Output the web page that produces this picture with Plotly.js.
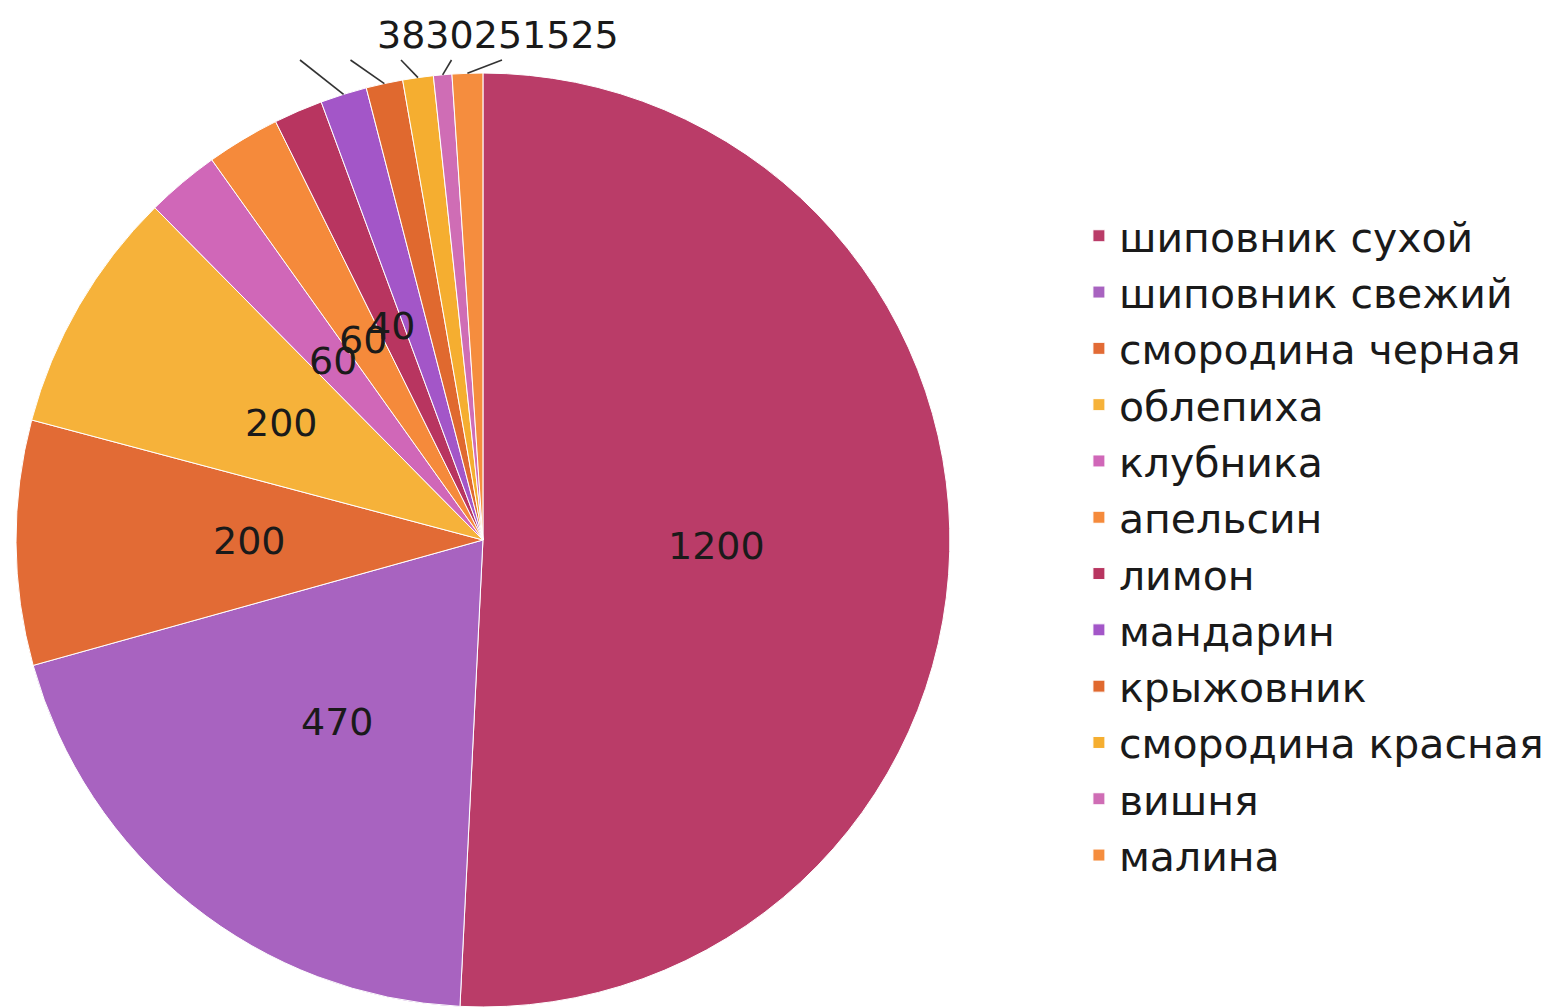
<!DOCTYPE html>
<html>
<head>
<meta charset="utf-8">
<script src="https://cdn.plot.ly/plotly-3.0.1.min.js"></script>
<style>html,body{margin:0;padding:0;background:#fff;}#chart{width:1552px;height:1008px;}</style>
</head>
<body>
<div id="chart"></div>
<script>
const labels = ["шиповник сухой","шиповник свежий","смородина черная","облепиха","клубника","апельсин","лимон","мандарин","крыжовник","смородина красная","вишня","малина"];
const values = [1200, 470, 200, 200, 60, 60, 40, 38, 30, 25, 15, 25];
const colors = ["#BA3C68","#A863C0","#E26B35","#F6B23A","#D067B8","#F58A3B","#B83560","#A356C8","#E0692F","#F5AE30","#CF6DB5","#F58D3E"];
// number of leading slices whose value label sits inside the slice
const insideCount = 7;

// page geometry (layout settings)
const W = 1552, H = 1008;
const M = {l: 16, r: 0, t: 73, b: 1};
const domX = [0, 0.608];
const plotW = W - M.l - M.r, plotH = H - M.t - M.b;

// pie geometry derived from the layout
const R = Math.min((domX[1] - domX[0]) * plotW, plotH) / 2;
const cx = M.l + (domX[0] + domX[1]) / 2 * plotW;
const cy = M.t + plotH / 2;
const toPaperX = px => (px - M.l) / plotW;
const toPaperY = py => (H - M.b - py) / plotH;

const total = values.reduce((a, b) => a + b, 0);
let cum = 0;
const mids = values.map(v => { const m = (cum + v / 2) / total * 2 * Math.PI; cum += v; return m; });

const font = {family: "DejaVu Sans", size: 38, color: "#1a1a1a"};
const annotations = [];
const shapes = [];
values.forEach((v, i) => {
  if (i < insideCount) {
    const px = cx + 0.5 * R * Math.sin(mids[i]);
    const py = cy - 0.5 * R * Math.cos(mids[i]);
    annotations.push({xref: "paper", yref: "paper", x: toPaperX(px), y: toPaperY(py),
      text: String(v), showarrow: false, font: font, xanchor: "center", yanchor: "middle"});
  } else {
    const k = i - insideCount;
    const ex = cx + R * Math.sin(mids[i]);
    const ey = cy - R * Math.cos(mids[i]);
    const lx = 300 + k * 50.5, ly = 60;
    shapes.push({type: "line", xref: "paper", yref: "paper",
      x0: toPaperX(ex), y0: toPaperY(ey), x1: toPaperX(lx), y1: toPaperY(ly),
      line: {color: "#333333", width: 1.6}});
  }
});
// the outside labels run together in one row above the pie, as in the source
annotations.push({xref: "paper", yref: "paper", x: toPaperX(498), y: toPaperY(35),
  text: values.slice(insideCount).join(""), showarrow: false, font: font,
  xanchor: "center", yanchor: "middle"});

const trace = {
  type: "pie",
  labels: labels,
  values: values,
  sort: false,
  direction: "clockwise",
  rotation: 0,
  textinfo: "none",
  marker: {colors: colors, line: {color: "#ffffff", width: 1}},
  domain: {x: domX, y: [0, 1]},
  hoverinfo: "none"
};

const layout = {
  width: W, height: H,
  margin: M,
  paper_bgcolor: "#ffffff",
  showlegend: true,
  annotations: annotations,
  shapes: shapes,
  legend: {x: 0.692, y: 0.494, yanchor: "middle", xanchor: "left",
           font: {family: "DejaVu Sans", size: 41, color: "#1a1a1a"},
           itemwidth: 30, tracegroupgap: 0}
};
Plotly.newPlot("chart", [trace], layout, {displayModeBar: false, staticPlot: true});
</script>
</body>
</html>
